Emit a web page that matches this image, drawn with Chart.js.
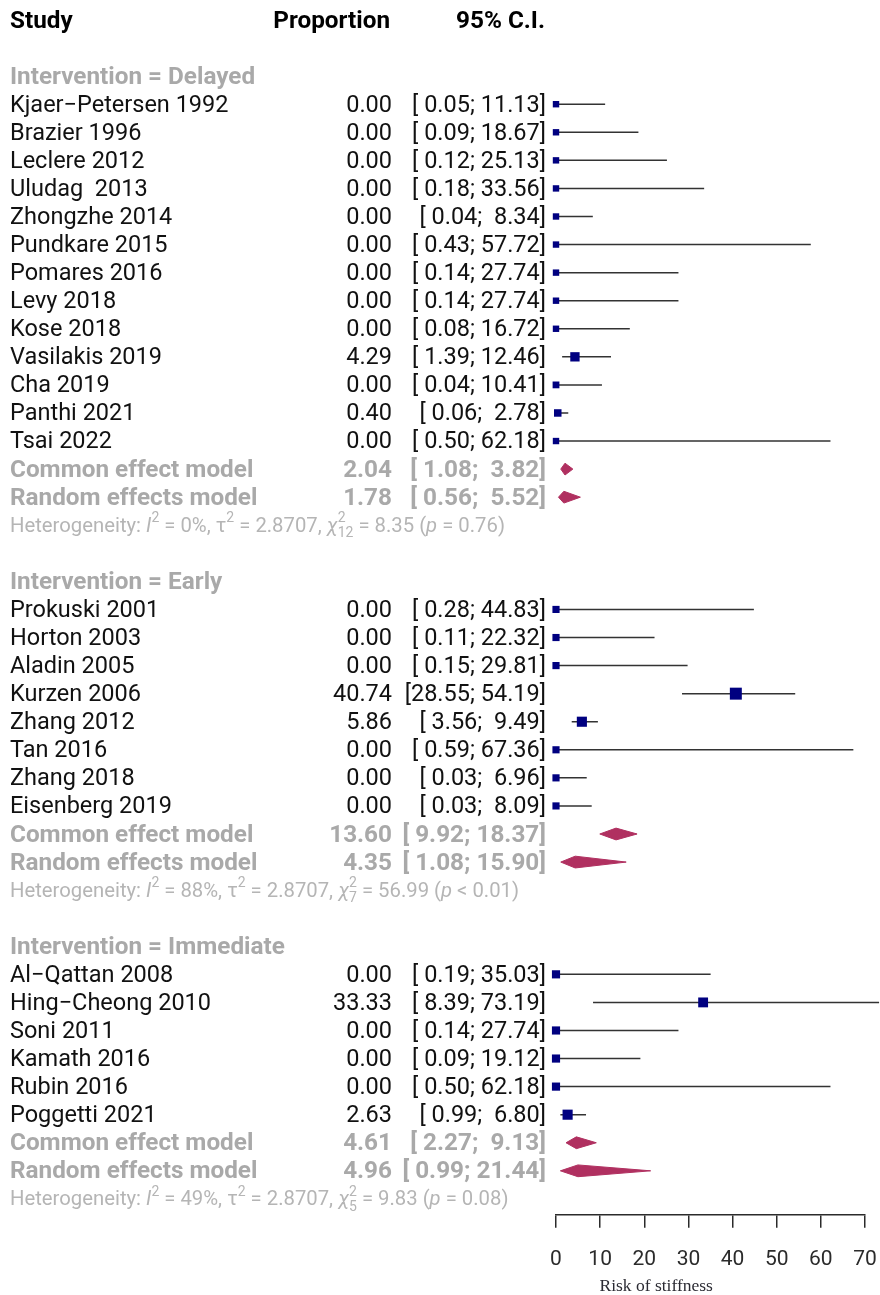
<!DOCTYPE html>
<html>
<head>
<meta charset="utf-8">
<title>Risk of stiffness – forest plot</title>
<script src="https://cdn.jsdelivr.net/npm/chart.js@4.4.1/dist/chart.umd.min.js"></script>
<style>
  html, body { margin: 0; padding: 0; background: #ffffff; }
  canvas { display: block; }
</style>
</head>
<body>
<canvas id="forest" width="880" height="1295"></canvas>
<script>
// ---------- data ----------
const groupNames = ['Delayed', 'Early', 'Immediate'];

const delayedStudies = ['Kjaer\u2212Petersen 1992', 'Brazier 1996', 'Leclere 2012', 'Uludag  2013', 'Zhongzhe 2014',
  'Pundkare 2015', 'Pomares 2016', 'Levy 2018', 'Kose 2018', 'Vasilakis 2019', 'Cha 2019', 'Panthi 2021', 'Tsai 2022'];
const delayedProp  = [0.00, 0.00, 0.00, 0.00, 0.00, 0.00, 0.00, 0.00, 0.00, 4.29, 0.00, 0.40, 0.00];
const delayedLower = [0.05, 0.09, 0.12, 0.18, 0.04, 0.43, 0.14, 0.14, 0.08, 1.39, 0.04, 0.06, 0.50];
const delayedUpper = [11.13, 18.67, 25.13, 33.56, 8.34, 57.72, 27.74, 27.74, 16.72, 12.46, 10.41, 2.78, 62.18];
const delayedWeight = [8, 8, 8, 8, 8, 8, 8, 8, 8, 17, 9, 11, 8];

const earlyStudies = ['Prokuski 2001', 'Horton 2003', 'Aladin 2005', 'Kurzen 2006', 'Zhang 2012', 'Tan 2016',
  'Zhang 2018', 'Eisenberg 2019'];
const earlyProp  = [0.00, 0.00, 0.00, 40.74, 5.86, 0.00, 0.00, 0.00];
const earlyLower = [0.28, 0.11, 0.15, 28.55, 3.56, 0.59, 0.03, 0.03];
const earlyUpper = [44.83, 22.32, 29.81, 54.19, 9.49, 67.36, 6.96, 8.09];
const earlyWeight = [10, 10, 10, 28, 20, 10, 10, 10];

const immediateStudies = ['Al\u2212Qattan 2008', 'Hing\u2212Cheong 2010', 'Soni 2011', 'Kamath 2016', 'Rubin 2016', 'Poggetti 2021'];
const immediateProp  = [0.00, 33.33, 0.00, 0.00, 0.00, 2.63];
const immediateLower = [0.19, 8.39, 0.14, 0.09, 0.50, 0.99];
const immediateUpper = [35.03, 73.19, 27.74, 19.12, 62.18, 6.80];
const immediateWeight = [13, 19, 13, 13, 13, 20];

// pooled estimates per subgroup: [Delayed, Early, Immediate]
const commonEst   = [2.04, 13.60, 4.61];
const commonLower = [1.08, 9.92, 2.27];
const commonUpper = [3.82, 18.37, 9.13];
const randomEst   = [1.78, 4.35, 4.96];
const randomLower = [0.56, 1.08, 0.99];
const randomUpper = [5.52, 15.90, 21.44];

// heterogeneity statistics per subgroup
const hetI2   = ['0%', '88%', '49%'];
const hetTau2 = ['2.8707', '2.8707', '2.8707'];
const hetDf   = ['12', '7', '5'];
const hetQ    = ['8.35', '56.99', '9.83'];
const hetP    = ['= 0.76', '< 0.01', '= 0.08'];

const xTicks = [0, 10, 20, 30, 40, 50, 60, 70];
const xTitle = 'Risk of stiffness';

// ---------- layout constants ----------
const ROW_PX = 28.05;       // vertical distance between rows
const FIRST_ROW_Y = 20;     // pixel centre of the header row
const AXIS_Y = 1214;        // pixel of the x-axis line
const PLOT_LEFT = 556;
const PLOT_RIGHT = 865;
const DIAMOND_HALF = 0.21;  // half height of summary diamonds, in rows
const TEXT_DY = 1.5;        // optical centring of text on its row

const FONT = 'Roboto, "Liberation Sans", Arial, sans-serif';
const TEXT_SIZE = 23.5;
const BOLD_SIZE = 24.3;
const HET_SIZE = 20.3;
const GREY = '#a9a9a9';
const HET_GREY = '#b5b5b5';
const SQUARE_COL = '#000080';
const DIAMOND_COL = '#b03060';
const LINE_COL = '#333333';

// ---------- build row structure ----------
const groups = [
  { name: groupNames[0], studies: delayedStudies, prop: delayedProp, lo: delayedLower, hi: delayedUpper, w: delayedWeight },
  { name: groupNames[1], studies: earlyStudies, prop: earlyProp, lo: earlyLower, hi: earlyUpper, w: earlyWeight },
  { name: groupNames[2], studies: immediateStudies, prop: immediateProp, lo: immediateLower, hi: immediateUpper, w: immediateWeight }
];

const rows = [];   // text rows
let r = 2;         // row 0 = column header, row 1 blank
const squarePts = [], squareRadius = [], ciPts = [], diamonds = [];

function fmt(v) { return v.toFixed(2); }
function pad5(s) { return s.length < 5 ? ' '.repeat(5 - s.length) + s : s; }
function ciText(lo, hi) { return '[' + pad5(fmt(lo)) + '; ' + pad5(fmt(hi)) + ']'; }

groups.forEach((g, gi) => {
  rows.push({ row: r, kind: 'group', label: 'Intervention = ' + g.name });
  r++;
  g.studies.forEach((s, i) => {
    rows.push({ row: r, kind: 'study', label: s, est: fmt(g.prop[i]), ci: ciText(g.lo[i], g.hi[i]) });
    squarePts.push({ x: g.prop[i], y: r });
    squareRadius.push(1.6 * Math.sqrt(g.w[i]));
    ciPts.push({ x: g.lo[i], y: r }, { x: g.hi[i], y: r }, { x: null, y: null });
    r++;
  });
  rows.push({ row: r, kind: 'model', label: 'Common effect model', est: fmt(commonEst[gi]), ci: ciText(commonLower[gi], commonUpper[gi]) });
  diamonds.push({ row: r, est: commonEst[gi], lo: commonLower[gi], hi: commonUpper[gi] });
  r++;
  rows.push({ row: r, kind: 'model', label: 'Random effects model', est: fmt(randomEst[gi]), ci: ciText(randomLower[gi], randomUpper[gi]) });
  diamonds.push({ row: r, est: randomEst[gi], lo: randomLower[gi], hi: randomUpper[gi] });
  r++;
  rows.push({ row: r, kind: 'het', gi: gi });
  r += 2;
});

const yMin = -FIRST_ROW_Y / ROW_PX;
const yMax = (AXIS_Y - FIRST_ROW_Y) / ROW_PX;

// ---------- datasets ----------
const datasets = [
  {
    type: 'scatter',
    label: 'Study estimate',
    data: squarePts,
    pointStyle: 'rect',
    pointRadius: squareRadius,
    pointHoverRadius: squareRadius,
    backgroundColor: SQUARE_COL,
    borderColor: SQUARE_COL,
    borderWidth: 0,
    clip: false,
    order: 0
  },
  {
    type: 'line',
    label: '95% CI',
    data: ciPts,
    borderColor: LINE_COL,
    borderWidth: 1.5,
    pointRadius: 0,
    spanGaps: false,
    fill: false,
    clip: false,
    order: 2
  }
];
diamonds.forEach(d => {
  datasets.push({
    type: 'line',
    label: 'Pooled',
    data: [
      { x: d.lo, y: d.row },
      { x: d.est, y: d.row - DIAMOND_HALF },
      { x: d.hi, y: d.row },
      { x: d.est, y: d.row + DIAMOND_HALF },
      { x: d.lo, y: d.row }
    ],
    borderColor: DIAMOND_COL,
    backgroundColor: DIAMOND_COL,
    borderWidth: 1,
    pointRadius: 0,
    tension: 0,
    fill: 'shape',
    clip: false,
    order: 1
  });
});

// ---------- text columns ----------
function drawHet(ctx, x, y, gi) {
  const base = HET_SIZE + 'px ' + FONT;
  const ital = 'italic ' + HET_SIZE + 'px ' + FONT;
  const small = Math.round(HET_SIZE * 0.7) + 'px ' + FONT;
  ctx.fillStyle = HET_GREY;
  ctx.textAlign = 'left';
  ctx.textBaseline = 'middle';
  let cx = x;
  function put(t, f, dy) {
    ctx.font = f;
    ctx.fillText(t, cx, y + (dy || 0));
    cx += ctx.measureText(t).width;
  }
  put('Heterogeneity: ', base);
  put('I', ital);
  put('2', small, -8);
  put(' = ' + hetI2[gi] + ', \u03c4', base);
  put('2', small, -8);
  put(' = ' + hetTau2[gi] + ', ', base);
  put('\u03c7', ital);
  ctx.font = small;
  ctx.fillText('2', cx, y - 8);
  const wSup = ctx.measureText('2').width;
  ctx.fillText(hetDf[gi], cx, y + 7);
  cx += Math.max(wSup, ctx.measureText(hetDf[gi]).width);
  put(' = ' + hetQ[gi] + ' (', base);
  put('p', ital);
  put(' ' + hetP[gi] + ')', base);
}

const textPlugin = {
  id: 'forestText',
  afterDraw(chart) {
    const ctx = chart.ctx;
    const ys = chart.scales.y;
    const xs = chart.scales.x;
    ctx.save();
    ctx.textBaseline = 'middle';

    // column headers
    const hy = ys.getPixelForValue(0) + TEXT_DY;
    ctx.font = 'bold ' + BOLD_SIZE + 'px ' + FONT;
    ctx.fillStyle = '#000';
    ctx.textAlign = 'left';
    ctx.fillText('Study', 10, hy);
    ctx.textAlign = 'right';
    ctx.fillText('Proportion', 390, hy);
    ctx.fillText('95% C.I.', 545, hy);

    rows.forEach(rw => {
      const y = ys.getPixelForValue(rw.row) + TEXT_DY;
      if (rw.kind === 'het') { drawHet(ctx, 10, y, rw.gi); return; }
      if (rw.kind === 'group') {
        ctx.font = 'bold ' + BOLD_SIZE + 'px ' + FONT;
        ctx.fillStyle = GREY;
        ctx.textAlign = 'left';
        ctx.fillText(rw.label, 10, y);
        return;
      }
      ctx.font = rw.kind === 'model' ? 'bold ' + BOLD_SIZE + 'px ' + FONT : TEXT_SIZE + 'px ' + FONT;
      ctx.fillStyle = rw.kind === 'model' ? GREY : '#111';
      ctx.textAlign = 'left';
      ctx.fillText(rw.label, 10, y);
      ctx.textAlign = 'right';
      ctx.fillText(rw.est, 392, y);
      ctx.fillText(rw.ci, 546, y);
    });

    // axis title
    ctx.font = '17.5px "Liberation Serif", "DejaVu Serif", serif';
    ctx.fillStyle = '#2b2b33';
    ctx.textAlign = 'center';
    ctx.fillText(xTitle, xs.getPixelForValue(22.7), 1286);
    ctx.restore();
  }
};

// ---------- chart ----------
new Chart(document.getElementById('forest'), {
  type: 'scatter',
  data: { datasets },
  options: {
    responsive: false,
    animation: false,
    events: [],
    layout: { autoPadding: false, padding: { left: PLOT_LEFT, right: 880 - PLOT_RIGHT, top: 0, bottom: 4 } },
    plugins: { legend: { display: false }, tooltip: { enabled: false } },
    scales: {
      x: {
        type: 'linear',
        min: xTicks[0],
        max: xTicks[xTicks.length - 1],
        afterBuildTicks(scale) { scale.ticks = xTicks.map(v => ({ value: v })); },
        afterFit(scale) { scale.paddingLeft = 0; scale.paddingRight = 0; },
        ticks: { color: '#2b2b2b', font: { family: FONT, size: 21 }, padding: 19 },
        grid: { drawOnChartArea: false, drawTicks: true, tickLength: 13, color: '#2b2b2b', lineWidth: 1.5 },
        border: { display: true, color: '#2b2b2b', width: 1.5 }
      },
      y: {
        type: 'linear',
        reverse: true,
        min: yMin,
        max: yMax,
        display: false
      }
    }
  },
  plugins: [textPlugin]
});
</script>
</body>
</html>
